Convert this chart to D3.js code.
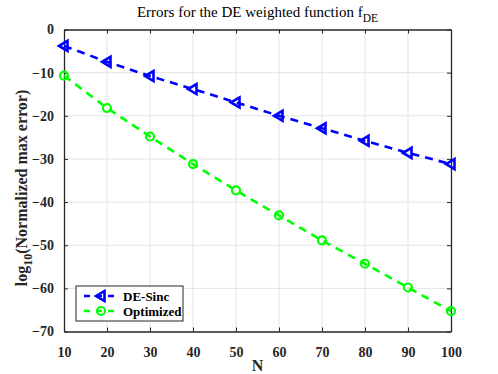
<!DOCTYPE html>
<html>
<head>
<meta charset="utf-8">
<script src="https://cdn.jsdelivr.net/npm/d3@7"></script>
<style>
  body { margin: 0; background: #fff; }
  svg text { font-family: "Liberation Serif", "Times New Roman", "DejaVu Serif", serif !important; }
</style>
</head>
<body>
<div id="container"></div>
<script>
// data
var N = [10, 20, 30, 40, 50, 60, 70, 80, 90, 100];
var deSinc = [-3.8, -7.5, -10.8, -13.8, -16.9, -20.0, -22.9, -25.8, -28.6, -31.2];
var optimized = [-10.7, -18.2, -24.8, -31.2, -37.3, -43.1, -48.9, -54.3, -59.8, -65.3];
var xTicks = [10, 20, 30, 40, 50, 60, 70, 80, 90, 100];
var yTicks = [0, -10, -20, -30, -40, -50, -60, -70];

var svg_width = 498, svg_height = 374;
var pLeft = 64, pRight = 451, pTop = 29.5, pBottom = 331.5;

var svg = d3.select("#container").append("svg")
  .attr("width", svg_width)
  .attr("height", svg_height)
  .attr("font-family", "Liberation Serif, serif");

var x = d3.scaleLinear().domain([10, 100]).range([pLeft, pRight]);
var y = d3.scaleLinear().domain([-70, 0]).range([pBottom, pTop]);

// grid
svg.append("g").selectAll("line")
  .data(xTicks.slice(1, -1)).enter().append("line")
  .attr("x1", function(d) { return x(d); }).attr("x2", function(d) { return x(d); })
  .attr("y1", pTop).attr("y2", pBottom)
  .attr("stroke", "#e3e3e3").attr("stroke-width", 1);
svg.append("g").selectAll("line")
  .data(yTicks.slice(1, -1)).enter().append("line")
  .attr("y1", function(d) { return y(d); }).attr("y2", function(d) { return y(d); })
  .attr("x1", pLeft).attr("x2", pRight)
  .attr("stroke", "#e3e3e3").attr("stroke-width", 1);

// axes (ticks inside, like matlab)
var xAxis = svg.append("g")
  .attr("transform", "translate(0," + pBottom + ")")
  .call(d3.axisBottom(x).tickValues(xTicks).tickSizeInner(-4).tickSizeOuter(0).tickPadding(16));
var xTop = svg.append("g")
  .attr("transform", "translate(0," + pTop + ")")
  .call(d3.axisTop(x).tickValues(xTicks).tickSizeInner(-4).tickSizeOuter(0).tickFormat(""));
var yAxis = svg.append("g")
  .attr("transform", "translate(" + pLeft + ",0)")
  .call(d3.axisLeft(y).tickValues(yTicks).tickSizeInner(-4).tickSizeOuter(0).tickPadding(10));
var yRight = svg.append("g")
  .attr("transform", "translate(" + pRight + ",0)")
  .call(d3.axisRight(y).tickValues(yTicks).tickSizeInner(-4).tickSizeOuter(0).tickFormat(""));

[xAxis, xTop, yAxis, yRight].forEach(function(g) {
  g.attr("font-family", null);
  g.select(".domain").attr("stroke", "#262626").attr("stroke-width", 1.3);
  g.selectAll(".tick line").attr("stroke", "#262626");
  g.selectAll(".tick text")
    .attr("fill", "#262626")
    .style("font-size", "14px")
    .style("font-weight", "bold");
});

// lines
var line = d3.line()
  .x(function(d, i) { return x(N[i]); })
  .y(function(d) { return y(d); });

function drawSeries(vals, color) {
  svg.append("path")
    .datum(vals)
    .attr("d", line)
    .attr("fill", "none")
    .attr("stroke", color)
    .attr("stroke-width", 2.6)
    .attr("stroke-dasharray", "8,6");
}
drawSeries(deSinc, "#0000ff");
drawSeries(optimized, "#00ff00");

function triangle(cx, cy) {
  var s = 5;
  return "M" + (cx - s) + "," + cy + "L" + (cx + s * 0.7) + "," + (cy - s) +
    "L" + (cx + s * 0.7) + "," + (cy + s) + "Z";
}

svg.append("g").selectAll("path")
  .data(deSinc).enter().append("path")
  .attr("d", function(d, i) { return triangle(x(N[i]), y(d)); })
  .attr("fill", "none")
  .attr("stroke", "#0000ff")
  .attr("stroke-width", 2.6);

svg.append("g").selectAll("circle")
  .data(optimized).enter().append("circle")
  .attr("cx", function(d, i) { return x(N[i]); })
  .attr("cy", function(d) { return y(d); })
  .attr("r", 4)
  .attr("fill", "none")
  .attr("stroke", "#00ff00")
  .attr("stroke-width", 2.2);

// legend
var lg = svg.append("g");
lg.append("rect")
  .attr("x", 76).attr("y", 286).attr("width", 107).attr("height", 35)
  .attr("fill", "#fff").attr("stroke", "#262626").attr("stroke-width", 1);
var items = [
  { name: "DE-Sinc", color: "#0000ff", ly: 296 },
  { name: "Optimized", color: "#00ff00", ly: 311 }
];
items.forEach(function(it, k) {
  lg.append("line")
    .attr("x1", 83).attr("x2", 118).attr("y1", it.ly).attr("y2", it.ly)
    .attr("stroke", it.color).attr("stroke-width", 2.6)
    .attr("stroke-dasharray", "6,6").attr("stroke-dashoffset", -1);
  if (k === 0) {
    lg.append("path").attr("d", triangle(101, it.ly))
      .attr("fill", "none").attr("stroke", it.color).attr("stroke-width", 2.6);
  } else {
    lg.append("circle").attr("cx", 101).attr("cy", it.ly).attr("r", 4)
      .attr("fill", "none").attr("stroke", it.color).attr("stroke-width", 2.2);
  }
  lg.append("text")
    .attr("x", 123).attr("y", it.ly + 4.5)
    .style("font-size", "13px").style("font-weight", "bold")
    .attr("fill", "#000")
    .text(it.name);
});

// title
var title = svg.append("text")
  .attr("x", (pLeft + pRight) / 2).attr("y", 17)
  .attr("text-anchor", "middle")
  .style("font-size", "15px")
  .attr("fill", "#000");
title.append("tspan").text("Errors for the DE weighted function f");
title.append("tspan").attr("dy", 5).style("font-size", "11.5px").text("DE");

// axis labels
svg.append("text")
  .attr("x", (pLeft + pRight) / 2).attr("y", 371)
  .attr("text-anchor", "middle")
  .style("font-size", "16px").style("font-weight", "bold")
  .attr("fill", "#262626")
  .text("N");

var yl = svg.append("text")
  .attr("transform", "translate(27,188) rotate(-90)")
  .attr("text-anchor", "middle")
  .attr("fill", "#262626")
  .style("font-size", "16px").style("font-weight", "bold");
yl.append("tspan").text("log");
yl.append("tspan").attr("dy", 5).style("font-size", "12px").text("10");
yl.append("tspan").attr("dy", -5).text("(Normalized max error)");
</script>
</body>
</html>
